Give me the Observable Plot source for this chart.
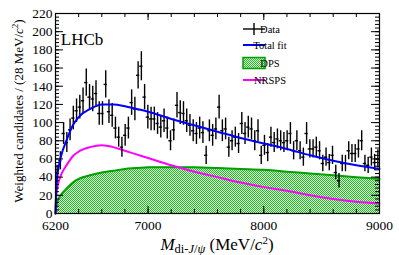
<!DOCTYPE html>
<html><head><meta charset="utf-8">
<script src="https://cdn.jsdelivr.net/npm/d3@7"></script>
<script src="https://cdn.jsdelivr.net/npm/@observablehq/plot@0.6"></script>
<style>body{margin:0;background:#fff;} svg{display:block} svg text{font-family:"Liberation Serif","Times New Roman",serif;}</style>
</head><body>
<svg width="0" height="0" style="position:absolute"><defs>
<pattern id="dpsHatch" width="2" height="2" patternUnits="userSpaceOnUse">
<rect width="2" height="2" fill="#d2f2d2"/><rect width="1" height="1" fill="#2cb42c"/><rect x="1" y="1" width="1" height="1" fill="#2cb42c"/>
</pattern></defs></svg>
<div id="chart"></div>
<script>
const binStart = 6200, binWidth = 28;
const counts = [45,58,88,78,92,105,113,117,124,144,128,126,132,110,110,142,112,108,94,84,
73,86,94,122,115,152,162,128,106,104,104,99,95,102,94,80,92,119,111,110,
102,97,91,88,94,89,64,91,86,93,117,91,93,73,80,84,77,99,88,95,
93,80,91,64,75,67,84,78,82,80,78,80,88,69,80,69,62,88,71,71,
73,69,55,62,56,64,45,36,55,55,69,66,66,71,80,55,53,62,56,60];
const errors = [8,10,12,11,12,13,13,13,14,15,14,14,14,13,13,15,13,13,12,11,
11,12,12,14,13,15,16,14,13,13,13,12,12,13,12,11,12,14,13,13,
13,12,12,12,12,12,10,12,12,12,13,12,12,11,11,11,11,12,12,12,
12,11,12,10,11,10,11,11,11,11,11,11,12,10,11,10,10,12,10,10,
11,10,9,10,9,10,8,8,9,9,10,10,10,10,11,9,9,10,9,10];
const fitMass  = [6200,6205,6215,6230,6250,6300,6350,6400,6500,6600,6700,6800,6900,7000,7200,7400,7600,7800,8000,8200,8400,8600,8800,9000];
const totalFit = [0,22,40,53,64,82,97,106,115,120,120,118,115,112,104,97,90,83,77,71,64,58,53,49];
const dpsFit   = [0,6,12,17,21,28,34,38,42,45,47,49,50,51,51,51,50,49,48,46,44,42,40,38];
const nrspsFit = [0,16,28,36,43,54,63,68,73,75,73,69,65,61,53,46,40,34,29,25,20,16,13,11];
const xTicks = [6200,7000,8000,9000];
const yTicks = [0,20,40,60,80,100,120,140,160,180,200,220];
const xMinor = d3.range(6200, 9001, 200);
const yMinor = d3.range(0, 221, 4);

const data = counts.map((v,i)=>({lo: binStart+i*binWidth, hi: binStart+(i+1)*binWidth, x: binStart+(i+0.5)*binWidth, v, e: errors[i]}));
const fit = fitMass.map((m,i)=>({m, total: totalFit[i], dps: dpsFit[i], nrsps: nrspsFit[i]}));

const ff = '"Liberation Serif", "Times New Roman", serif';
const W=399,H=255, mL=55, mR=20, mT=13, mB=42;
const fw = W-mL-mR, fh = H-mT-mB;
const chart = Plot.plot({
  width: W, height: H, marginLeft: mL, marginRight: mR, marginTop: mT, marginBottom: mB,
  style: {fontFamily: ff, fontSize: "13.5px", color: "black", background: "white"},
  x: {domain: [6200, 9000]},
  y: {domain: [0, 220]},
  marks: [
    Plot.areaY(fit, {x:"m", y:"dps", fill:"url(#dpsHatch)", curve:"monotone-x"}),
    Plot.line(fit, {x:"m", y:"dps", stroke:"#00a000", strokeWidth:2, curve:"monotone-x"}),
    Plot.line(fit, {x:"m", y:"nrsps", stroke:"#ff00ff", strokeWidth:2, curve:"monotone-x"}),
    Plot.ruleX(data, {x:"x", y1: d=>d.v-d.e, y2: d=>d.v+d.e, stroke:"black", strokeWidth:1.4}),
    Plot.ruleY(data, {y:"v", x1:"lo", x2:"hi", stroke:"black", strokeWidth:1.4}),
    Plot.line(fit, {x:"m", y:"total", stroke:"#0000ff", strokeWidth:2, curve:"monotone-x"}),
    Plot.tickY(yMinor, {insetRight: fw-4, stroke:"black"}),
    Plot.tickY(yTicks, {insetRight: fw-8, stroke:"black"}),
    Plot.tickY(yMinor, {insetLeft: fw-4, stroke:"black"}),
    Plot.tickY(yTicks, {insetLeft: fw-8, stroke:"black"}),
    Plot.tickX(xMinor, {insetTop: fh-4, stroke:"black"}),
    Plot.tickX(xTicks, {insetTop: fh-7, stroke:"black"}),
    Plot.tickX(xMinor, {insetBottom: fh-4, stroke:"black"}),
    Plot.tickX(xTicks, {insetBottom: fh-7, stroke:"black"}),
    Plot.axisY(yTicks, {tickSize: 0, tickPadding: 3, label: null, tickFormat: d=>String(d), fontSize: 13.5, fontFamily: ff, fill: "black"}),
    Plot.axisX(xTicks, {tickSize: 0, tickPadding: 7, label: null, tickFormat: d=>String(d), fontSize: 13.5, fontFamily: ff, fill: "black"}),
    Plot.frame({stroke:"black", strokeWidth: 1.2})
  ]
});
document.getElementById("chart").appendChild(chart);
const svg = d3.select(chart);
// LHCb label
svg.append("text").attr("x", 82).attr("y", 45).style("font-family", ff).attr("font-size", 17).text("LHCb");
// y title
const yt = svg.append("text").attr("transform","translate(23,111) rotate(-90)").attr("text-anchor","middle")
  .style("font-family", ff).attr("font-size", 13);
yt.append("tspan").text("Weighted candidates / (28 MeV/");
yt.append("tspan").attr("font-style","italic").text("c");
yt.append("tspan").attr("font-size", 9).attr("dy", -5).text("2");
yt.append("tspan").attr("dy", 5).text(")");
// x title
const xt = svg.append("text").attr("x", 217).attr("y", 250).attr("text-anchor","middle")
  .style("font-family", ff).attr("font-size", 17);
xt.append("tspan").attr("font-style","italic").text("M");
xt.append("tspan").attr("font-size", 12.5).attr("dy", 3).text("di-");
xt.append("tspan").attr("font-size", 12.5).attr("font-style","italic").text("J");
xt.append("tspan").attr("font-size", 12.5).text("/");
xt.append("tspan").attr("font-size", 12.5).attr("font-style","italic").text("ψ");
xt.append("tspan").attr("dy", -3).text(" (MeV/");
xt.append("tspan").attr("font-style","italic").text("c");
xt.append("tspan").attr("font-size", 11).attr("dy", -6).text("2");
xt.append("tspan").attr("dy", 6).text(")");
// legend
const lg = svg.append("g");
const lx0 = 243, lx1 = 265, tx = 270;
lg.append("line").attr("x1",lx0).attr("x2",lx1).attr("y1",29).attr("y2",29).attr("stroke","black").attr("stroke-width",1.4);
lg.append("line").attr("x1",254).attr("x2",254).attr("y1",23).attr("y2",35).attr("stroke","black").attr("stroke-width",1.4);
lg.append("line").attr("x1",lx0).attr("x2",lx1).attr("y1",45).attr("y2",45).attr("stroke","#0000ff").attr("stroke-width",2);
lg.append("rect").attr("x",lx0).attr("y",57.5).attr("width",lx1-lx0).attr("height",11).attr("fill","url(#dpsHatch)").attr("stroke","#00a000").attr("stroke-width",1.5);
lg.append("line").attr("x1",lx0).attr("x2",lx1).attr("y1",80).attr("y2",80).attr("stroke","#ff00ff").attr("stroke-width",2);
[["Data",33],["Total fit",49],["DPS",67],["NRSPS",84]].forEach(([t,y])=>{
  lg.append("text").attr("x",tx).attr("y",y).style("font-family",ff).attr("font-size",10.5).text(t);
});
</script>
</body></html>
